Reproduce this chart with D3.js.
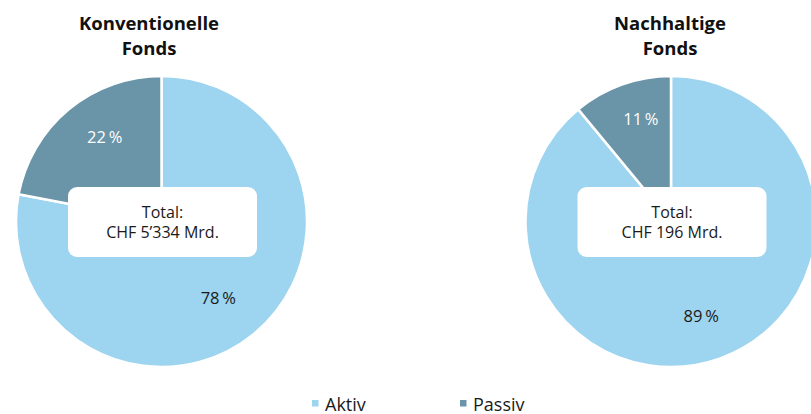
<!DOCTYPE html>
<html>
<head>
<meta charset="utf-8">
<script src="https://cdn.jsdelivr.net/npm/d3@7"></script>
<style>
  html, body { margin: 0; padding: 0; background: #fff; }
  svg { display: block; font-family: "Open Sans", "Noto Sans", sans-serif; }
</style>
</head>
<body>
<svg id="chart" width="811" height="414"></svg>
<script>
// Fund categories and their active / passive split (in %)
const fundTitles = [["Konventionelle", "Fonds"], ["Nachhaltige", "Fonds"]];
const seriesNames = ["Aktiv", "Passiv"];
const aktivShares = [78, 89];
const passivShares = [22, 11];
const totalVolumes = ["5\u2019334", "196"];   // CHF Mrd.

const colors = d3.scaleOrdinal().domain(seriesNames).range(["#9dd4f0", "#6a94a8"]);

const svg = d3.select("#chart");

const radius = 145.5;
const centers = d3.scalePoint().domain(d3.range(fundTitles.length)).range([161.5, 671]);
const centerY = 221.5;

const pie = d3.pie().sort(null).value(d => d.value);
const arc = d3.arc().innerRadius(0).outerRadius(radius);
const labelArc = d3.arc().innerRadius(radius * 0.72).outerRadius(radius * 0.72);

fundTitles.forEach((title, i) => {
  const cx = centers(i);
  const slices = seriesNames.map((name, k) => ({
    name, value: [aktivShares, passivShares][k][i]
  }));
  const g = svg.append("g").attr("transform", `translate(${cx},${centerY})`);

  const arcs = pie(slices);
  g.selectAll("path.slice").data(arcs).join("path")
    .attr("class", "slice")
    .attr("d", arc)
    .attr("fill", d => colors(d.data.name))
    .attr("stroke", "#fff")
    .attr("stroke-width", 2.5)
    .attr("stroke-linejoin", "round");

  g.selectAll("text.pct").data(arcs).join("text")
    .attr("class", "pct")
    .attr("transform", d => {
      const [x, y] = labelArc.centroid(d);
      return `translate(${x * 0.85},${y - 4})`;
    })
    .attr("text-anchor", "middle")
    .attr("dy", "0.35em")
    .attr("font-size", 16.5)
    .attr("fill", d => d.data.name === "Passiv" ? "#ffffff" : "#1a1a1a")
    .text(d => d.data.value + "\u2009%");

  // central total box
  const bw = 189, bh = 70;
  g.append("rect")
    .attr("x", -bw / 2 + 1).attr("y", -34.5)
    .attr("width", bw).attr("height", bh)
    .attr("rx", 9).attr("ry", 9)
    .attr("fill", "#fff");
  g.append("text").attr("text-anchor", "middle").attr("x", 1).attr("y", -3.5)
    .attr("font-size", 16).attr("fill", "#1a1a1a").text("Total:");
  g.append("text").attr("text-anchor", "middle").attr("x", 1).attr("y", 16.5)
    .attr("font-size", 16).attr("fill", "#1a1a1a").text(`CHF ${totalVolumes[i]} Mrd.`);

  // title
  const tx = cx + (i === 0 ? -12.5 : -1);
  const t = svg.append("text").attr("text-anchor", "middle")
    .attr("font-size", 18.5).attr("font-weight", "bold").attr("fill", "#111");
  title.forEach((line, j) => {
    t.append("tspan").attr("x", tx).attr("y", 30 + j * 24.5).text(line);
  });
});

// legend
const legend = svg.append("g");
const legendX = d3.scaleOrdinal().domain(seriesNames).range([312, 460]);
seriesNames.forEach(name => {
  const lx = legendX(name);
  legend.append("rect").attr("x", lx).attr("y", 400).attr("width", 6.5).attr("height", 6.5)
    .attr("fill", colors(name));
  legend.append("text").attr("x", lx + 13).attr("y", 410.5)
    .attr("font-size", 18).attr("fill", "#1a1a1a").text(name);
});
</script>
</body>
</html>
